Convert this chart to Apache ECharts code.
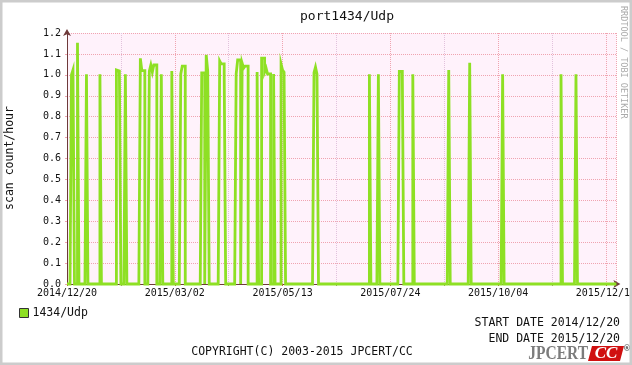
<!DOCTYPE html>
<html><head><meta charset="utf-8">
<script src="https://cdn.jsdelivr.net/npm/echarts@6/dist/echarts.min.js"></script>
<style>html,body{margin:0;padding:0;background:#fff}#c{width:632px;height:365px}</style>
</head><body><div id="c"></div>
<script>
// ---- data ----
const titleText = 'port1434/Udp';
const seriesName = '1434/Udp';
const yAxisName = 'scan count/hour';
const startDateUTC = [2014, 11, 20];   // day 0 of the x axis
const xTickInterval = 72;               // days between labelled ticks
const xMaxDay = 367;
const yMax = 1.2;
const yInterval = 0.1;
// day index (from 2014/12/20) and scan count/hour of each non-zero day
const spikeDays = [3, 4, 7, 13, 22, 33, 34, 35, 39, 49, 50, 51, 55, 56, 57, 58, 59, 63, 70, 76, 77, 78,
  90, 91, 93, 94, 102, 103, 104, 105, 113, 114, 115, 117, 118, 119, 120, 127, 130, 131, 132, 133, 134, 135,
  138, 143, 144, 145, 165, 166, 167, 202, 208, 222, 223, 224, 231, 255, 269, 291, 330, 340];
const spikeValues = [1.0, 1.023, 1.153, 1.003, 1.003, 1.023, 1.018, 1.018, 1.003, 1.079, 1.02, 1.02,
  1.018, 1.047, 1.013, 1.047, 1.047, 1.003, 1.018, 1.004, 1.042, 1.042,
  1.009, 1.009, 1.095, 1.018, 1.066, 1.052, 1.052, 1.008, 1.004, 1.071, 1.071, 1.056, 1.032, 1.042, 1.042,
  1.013, 1.08, 1.08, 1.013, 1.032, 1.004, 1.004, 1.004, 1.052, 1.023, 1.013, 1.01, 1.037, 1.003,
  1.003, 1.003, 1.016, 1.016, 1.005, 1.003, 1.023, 1.058, 1.003, 1.003, 1.003];
const startLabel = 'START DATE 2014/12/20';
const endLabel = 'END DATE 2015/12/20';
const copyright = 'COPYRIGHT(C) 2003-2015 JPCERT/CC';
const sideText = 'RRDTOOL / TOBI OETIKER';

// ---- build ----
const daily = [];
for (let d = 0; d <= xMaxDay; d++) daily.push(0);
spikeDays.forEach((d, i) => { daily[d] = spikeValues[i]; });
const seriesData = daily.map((v, d) => [d, v]);

const t0 = Date.UTC(startDateUTC[0], startDateUTC[1], startDateUTC[2]);
function dayLabel(d) {
  if (d % xTickInterval !== 0) return '';
  const dt = new Date(t0 + d * 86400000);
  const p = n => (n < 10 ? '0' : '') + n;
  return dt.getUTCFullYear() + '/' + p(dt.getUTCMonth() + 1) + '/' + p(dt.getUTCDate());
}

const MONO = '"DejaVu Sans Mono", monospace';
const GREEN = '#8ee024';
const MAJOR = '#f0a4b0';
const MINOR = '#e2c2dc';
const AXIS = '#6e3a3a';

const chart = echarts.init(document.getElementById('c'), null, {renderer: 'canvas'});
chart.setOption({
  backgroundColor: '#ffffff',
  animation: false,
  title: {
    text: titleText, left: 342, top: 5, textAlign: 'center',
    textStyle: {fontFamily: MONO, fontSize: 13, fontWeight: 'normal', color: '#111'}
  },
  grid: {left: 67, right: 15.6, top: 33, bottom: 81, show: true, backgroundColor: '#fff2fb', borderWidth: 0,
    outerBoundsMode: 'none', containLabel: false},
  legend: {
    left: 14, top: 302, icon: 'rect', itemWidth: 9, itemHeight: 9,
    data: [seriesName],
    itemStyle: {color: GREEN, borderColor: '#333', borderWidth: 1},
    textStyle: {fontFamily: MONO, fontSize: 11.5, color: '#111', padding: [0, 0, 0, -1]}
  },
  xAxis: {
    type: 'value', min: 0, max: xMaxDay, interval: xTickInterval,
    axisLine: {show: true, lineStyle: {color: AXIS, width: 1}, symbol: ['none', 'arrow'], symbolSize: [6, 7], symbolOffset: [0, 4]},
    axisTick: {show: true, length: 2, lineStyle: {color: '#c04040'}},
    minorTick: {show: true, splitNumber: 2, length: 2, lineStyle: {color: '#a08080'}},
    axisLabel: {formatter: dayLabel, fontFamily: MONO, fontSize: 10, color: '#111', margin: 4, showMaxLabel: false, hideOverlap: false},
    splitLine: {show: true, lineStyle: {color: MAJOR, type: [1, 1], width: 1}},
    minorSplitLine: {show: true, lineStyle: {color: MINOR, type: [1, 1], width: 1}}
  },
  yAxis: {
    type: 'value', min: 0, max: yMax, interval: yInterval,
    axisLine: {show: true, lineStyle: {color: AXIS, width: 1}, symbol: ['none', 'arrow'], symbolSize: [6, 7], symbolOffset: [0, 4]},
    axisTick: {show: true, length: 2, lineStyle: {color: MAJOR}},
    axisLabel: {formatter: v => v.toFixed(1), fontFamily: MONO, fontSize: 10, color: '#111', margin: 6},
    splitLine: {show: true, lineStyle: {color: MAJOR, type: [1, 1], width: 1}}
  },
  series: [{
    name: seriesName, type: 'line', step: 'end', showSymbol: false, symbol: 'none', clip: false,
    data: seriesData,
    itemStyle: {color: GREEN},
    lineStyle: {color: GREEN, width: 2.8, join: 'miter', cap: 'butt'}
  }],
  graphic: [
    {type: 'rect', shape: {x: 0, y: 0, width: 632, height: 365}, style: {fill: 'none', stroke: '#cccccc', lineWidth: 5}, z: 100, silent: true},
    {type: 'text', x: 10, y: 158, rotation: Math.PI / 2,
      style: {text: yAxisName, font: '11.5px ' + MONO, fill: '#111', align: 'center', verticalAlign: 'middle'}},
    {type: 'text', x: 623, y: 6, rotation: -Math.PI / 2,
      style: {text: sideText, font: '8.5px ' + MONO, fill: '#aaaaaa', align: 'left', verticalAlign: 'middle'}},
    {type: 'text', x: 620, y: 323,
      style: {text: startLabel, font: '11.5px ' + MONO, fill: '#111', align: 'right', verticalAlign: 'middle'}},
    {type: 'text', x: 620, y: 339,
      style: {text: endLabel, font: '11.5px ' + MONO, fill: '#111', align: 'right', verticalAlign: 'middle'}},
    {type: 'text', x: 302, y: 352,
      style: {text: copyright, font: '11.5px ' + MONO, fill: '#111', align: 'center', verticalAlign: 'middle'}},
    {type: 'text', x: 588, y: 354, scaleX: 0.86,
      style: {text: 'JPCERT', font: 'bold 18px "Liberation Serif", serif', fill: '#7c7c7c', align: 'right', verticalAlign: 'middle'}},
    {type: 'polygon', shape: {points: [[592, 346], [624, 346], [620, 361], [588, 361]]}, style: {fill: '#d01010'}},
    {type: 'text', x: 606, y: 354,
      style: {text: 'CC', font: 'italic bold 17px "Liberation Serif", serif', fill: '#ffffff', align: 'center', verticalAlign: 'middle'}},
    {type: 'text', x: 627, y: 349,
      style: {text: '®', font: 'bold 8px "DejaVu Sans", sans-serif', fill: '#555', align: 'center', verticalAlign: 'middle'}}
  ]
});
</script>
</body></html>
